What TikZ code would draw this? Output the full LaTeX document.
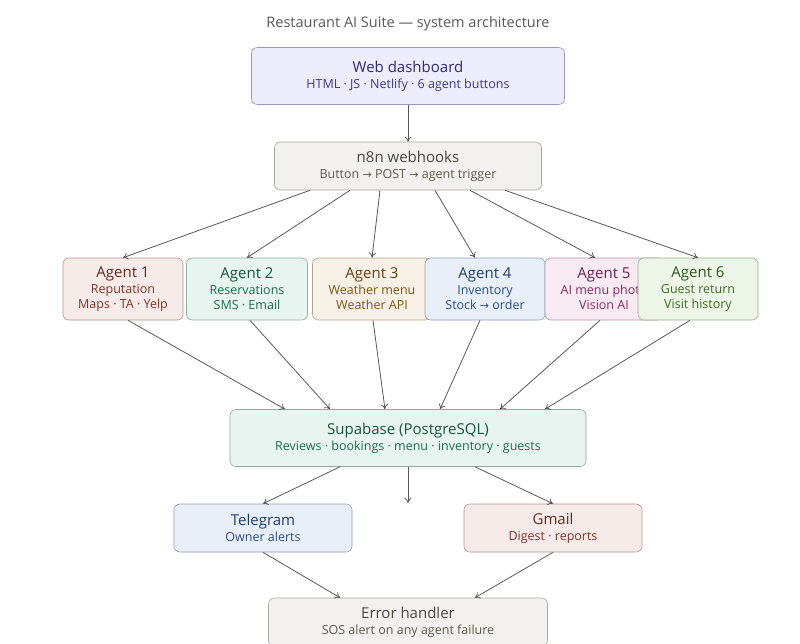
\documentclass[tikz,border=0pt]{standalone}
\usepackage{fontspec}
\setmainfont{Open Sans}
\newfontfamily\arrfont{DejaVu Sans}
\usetikzlibrary{arrows.meta}
\newcommand{\ra}{{\arrfont\fontsize{11}{12}\selectfont →}}
\begin{document}
\begin{tikzpicture}[x=1pt,y=-1pt,
 box/.style={draw=#1!45!gray!70, fill=#1!11, rounded corners=6pt, line width=0.6pt, inner sep=0pt, align=center, text=#1!70!black, font=\fontsize{12.5}{15}\selectfont},
 ar/.style={draw=black!65, line width=0.8pt, -{To[length=5pt,width=7pt]}}]
\useasboundingbox[fill=white] (0,0) rectangle (800,643);
\node[text=black!65, font=\fontsize{14.5}{16}\selectfont] (title) at (408,24) {Restaurant AI Suite — system architecture};
\newcommand{\bx}[8]{\node[box=#2, minimum width=#5pt, minimum height=#6pt] (#1) at (#3,#4) {{\color{#2!55!black}\fontsize{15}{17}\selectfont #7}\\[1pt]#8};}
\definecolor{cpur}{HTML}{5A4FCF}
\definecolor{cbrn}{HTML}{8A7F70}
\definecolor{cred}{HTML}{B24A3A}
\definecolor{cgrn}{HTML}{2A9A6A}
\definecolor{corg}{HTML}{B07A20}
\definecolor{cblu}{HTML}{3A70C0}
\definecolor{cpnk}{HTML}{C0408A}
\definecolor{clim}{HTML}{5A9A30}
\bx{web}{cpur}{408}{76}{313}{57}{Web dashboard}{HTML · JS · Netlify · 6 agent buttons}
\bx{n8n}{cbrn}{408}{166}{267}{48}{n8n webhooks}{Button \ra{} POST \ra{} agent trigger}
\bx{a1}{cred}{123}{289}{120}{62}{Agent 1}{Reputation\\Maps · TA · Yelp}
\bx{a2}{cgrn}{247}{289}{121}{62}{Agent 2}{Reservations\\SMS · Email}
\bx{a3}{corg}{372}{289}{119}{62}{Agent 3}{Weather menu\\Weather API}
\bx{a4}{cblu}{485}{289}{120}{62}{Agent 4}{Inventory\\Stock \ra{} order}
\bx{a5}{cpnk}{604}{289}{118}{62}{Agent 5}{AI menu photo\\Vision AI}
\bx{a6}{clim}{698}{289}{120}{62}{Agent 6}{Guest return\\Visit history}
\bx{sup}{cgrn}{408}{438}{356}{57}{Supabase (PostgreSQL)}{Reviews · bookings · menu · inventory · guests}
\bx{tg}{cblu}{263}{528}{178}{48}{Telegram}{Owner alerts}
\bx{gm}{cred}{553}{528}{178}{48}{Gmail}{Digest · reports}
\bx{err}{cbrn}{408}{622}{279}{48}{Error handler}{SOS alert on any agent failure}
\draw[ar] (web) -- (n8n);
\draw[ar] ([xshift=-98pt]n8n.south) -- (a1.north);
\draw[ar] ([xshift=-58pt]n8n.south) -- (a2.north);
\draw[ar] ([xshift=-28pt]n8n.south) -- (a3.north);
\draw[ar] ([xshift=27pt]n8n.south) -- ([xshift=-10pt]a4.north);
\draw[ar] ([xshift=62pt]n8n.south) -- ([xshift=-9pt]a5.north);
\draw[ar] ([xshift=97pt]n8n.south) -- (a6.north);
\draw[ar] ([xshift=5pt]a1.south) -- ([xshift=-123pt]sup.north);
\draw[ar] ([xshift=3pt]a2.south) -- ([xshift=-78pt]sup.north);
\draw[ar] ([xshift=1pt]a3.south) -- ([xshift=-23pt]sup.north);
\draw[ar] ([xshift=-5pt]a4.south) -- ([xshift=32pt]sup.north);
\draw[ar] ([xshift=-4pt]a5.south) -- ([xshift=92pt]sup.north);
\draw[ar] ([xshift=-8pt]a6.south) -- ([xshift=137pt]sup.north);
\coordinate (free) at (408,503);
\draw[ar] ([xshift=-68pt]sup.south) -- (tg.north);
\draw[ar] (sup.south) -- (free);
\draw[ar] ([xshift=67pt]sup.south) -- (gm.north);
\draw[ar] (tg.south) -- ([xshift=-68pt]err.north);
\draw[ar] (gm.south) -- ([xshift=67pt]err.north);
\end{tikzpicture}
\end{document}
